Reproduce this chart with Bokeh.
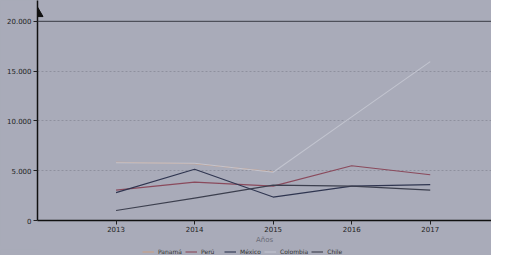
import math
from bokeh.plotting import figure
from bokeh.layouts import column
from bokeh.models import Range1d, FixedTicker, Span, Legend, LegendItem, ColumnDataSource
from bokeh.embed import file_html
from bokeh.resources import INLINE

years = [2013, 2014, 2015, 2016, 2017]
panama = [5850, 5700, 4900, float("nan"), float("nan")]
peru = [3050, 3850, 3450, 5500, 4600]
mexico = [2800, 5150, 2350, 3450, 3600]
colombia = [5800, 5750, 4850, 10400, 15950]
chile = [1000, 2250, 3550, 3450, 3050]

y_ticks = [0, 5000, 10000, 15000, 20000]
y_labels = ["0", "5.000", "10.000", "15.000", "20.000"]

series_names = ["Panamá", "Perú", "México", "Colombia", "Chile"]
series_vals = [panama, peru, mexico, colombia, chile]
series_colors = ["#c9a088", "#8a4a5c", "#2f3550", "#c2c4cf", "#3c3f4e"]

bg = "#a9abb9"
bg_style = {"background-color": bg}

p = figure(width=491, height=246, output_backend="svg", toolbar_location=None,
           x_range=Range1d(2012, 2017.78), y_range=Range1d(0, 22090),
           min_border_left=37, min_border_right=0, min_border_top=0, min_border_bottom=24,
           styles=bg_style)
p.background_fill_color = bg
p.border_fill_color = bg
p.outline_line_color = None

# small strip that carries the legend (its lines use the same data but lie outside its view)
leg = figure(width=491, height=9, output_backend="svg", toolbar_location=None,
             x_range=Range1d(0, 1), y_range=Range1d(0, 1),
             min_border_left=0, min_border_right=0, min_border_top=0, min_border_bottom=0,
             styles=bg_style)
leg.background_fill_color = bg
leg.border_fill_color = bg
leg.outline_line_color = None
leg.axis.visible = False
leg.grid.visible = False

items = []
for name, vals, col in zip(series_names, series_vals, series_colors):
    src = ColumnDataSource(dict(x=years, y=vals))
    p.line("x", "y", source=src, line_color=col, line_width=1.1)
    r2 = leg.line("x", "y", source=src, line_color=col, line_width=1.1)
    items.append(LegendItem(label=name, renderers=[r2]))

# top line at 20.000
p.add_layout(Span(location=20000, dimension="width", line_color="#3a3b45", line_width=1))

# arrow head on y axis
p.scatter([2012], [20796], marker="triangle", size=11, color="#111111")

p.xaxis.ticker = FixedTicker(ticks=years)
p.yaxis.ticker = FixedTicker(ticks=y_ticks)
p.yaxis.major_label_overrides = {t: l for t, l in zip(y_ticks, y_labels)}
for ax in (p.xaxis[0], p.yaxis[0]):
    ax.axis_line_color = "#111111"
    ax.axis_line_width = 1.5
    ax.major_tick_line_color = "#222222"
    ax.major_tick_out = 4
    ax.major_tick_in = 0
    ax.minor_tick_line_color = None
    ax.major_label_text_font = "DejaVu Sans"
    ax.major_label_text_font_size = "7px"
    ax.major_label_text_color = "#222222"
    ax.major_label_standoff = 2
p.xaxis.major_label_standoff = 1
p.xaxis.axis_label = "Años"
p.xaxis.axis_label_text_font = "DejaVu Sans"
p.xaxis.axis_label_text_font_style = "normal"
p.xaxis.axis_label_text_font_size = "7px"
p.xaxis.axis_label_text_color = "#6a6c78"
p.xaxis.axis_label_standoff = 1

p.xgrid.grid_line_color = None
p.ygrid.grid_line_color = "#8e909e"
p.ygrid.grid_line_dash = "2 2"
p.ygrid.grid_line_width = 1
p.ygrid.ticker = FixedTicker(ticks=[5000, 10000, 15000])

legend = Legend(items=items, orientation="horizontal", location=(105, 0),
                background_fill_alpha=0, border_line_color=None,
                label_text_font="DejaVu Sans", label_text_font_size="6px",
                label_text_color="#333333", glyph_width=12, glyph_height=7,
                label_height=7, label_standoff=4, spacing=3, padding=0, margin=0)
leg.add_layout(legend)

layout = column(p, leg, spacing=0, styles=bg_style)
open("out.html", "w").write(file_html(layout, INLINE))
